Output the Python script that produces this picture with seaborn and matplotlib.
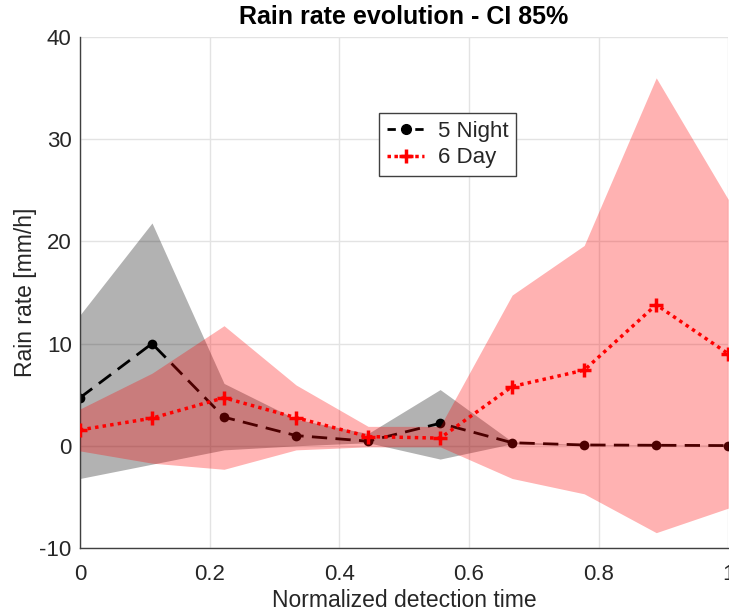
import numpy as np
import pandas as pd
import matplotlib
matplotlib.use("Agg")
import matplotlib.pyplot as plt
import seaborn as sns
from matplotlib.lines import Line2D

# ---- data ----
t = [0, 1/9, 2/9, 3/9, 4/9, 5/9, 6/9, 7/9, 8/9, 1]
night_mean = [4.7, 10.0, 2.8, 1.0, 0.45, 2.2, 0.3, 0.08, 0.05, 0.02]
night_low = [-3.2, -1.8, -0.4, 0.0, 0.3, -1.3, 0.2, 0.05, 0.03, 0.0]
night_high = [12.8, 21.8, 6.1, 2.6, 1.2, 5.5, 0.4, 0.1, 0.07, 0.04]
day_mean = [1.55, 2.7, 4.7, 2.75, 0.9, 0.75, 5.8, 7.4, 13.8, 9.0]
day_low = [-0.5, -1.7, -2.3, -0.4, -0.1, -0.1, -3.2, -4.7, -8.5, -6.1]
day_high = [3.6, 7.1, 11.75, 5.95, 1.9, 1.9, 14.75, 19.6, 36.0, 24.1]
labels = ["5 Night", "6 Day"]
xticks = [0, 0.2, 0.4, 0.6, 0.8, 1]
xticklabels = ["0", "0.2", "0.4", "0.6", "0.8", "1"]
yticks = [-10, 0, 10, 20, 30, 40]

sns.set_theme(style="whitegrid")
plt.rcParams['font.family'] = ['Liberation Sans', 'DejaVu Sans']
plt.rcParams['axes.unicode_minus'] = False

fig = plt.figure(figsize=(7.29, 6.16), dpi=100)
ax = fig.add_axes([0.1097, 0.1104, 0.8893, 0.8296])
ax.set_facecolor("white")

night_df = pd.DataFrame({"t": t, "v": night_mean})
day_df = pd.DataFrame({"t": t, "v": day_mean})

ax.fill_between(t, night_low, night_high, color="black", alpha=0.3, linewidth=0, zorder=1)
sns.lineplot(data=night_df, x="t", y="v", ax=ax, color="black", linestyle=(0, (5.5, 3)),
             linewidth=2, marker="o", markersize=7, markeredgewidth=0, zorder=2, legend=False)
ax.fill_between(t, day_low, day_high, color="red", alpha=0.3, linewidth=0, zorder=3)
sns.lineplot(data=day_df, x="t", y="v", ax=ax, color="red", linestyle=(0, (1, 1.2)),
             linewidth=2.5, zorder=4, legend=False)
sns.scatterplot(data=day_df, x="t", y="v", ax=ax, color="red", marker="+", s=100,
                linewidth=2.5, zorder=5, legend=False)

ax.set_xlim(0, 1)
ax.set_ylim(-10, 40)
ax.set_xticks(xticks)
ax.set_xticklabels(xticklabels)
ax.set_yticks(yticks)
ax.grid(True, color="#e3e3e3", linewidth=1)
ax.set_axisbelow(True)
for s in ["top", "right"]:
    ax.spines[s].set_visible(False)
for s in ["left", "bottom"]:
    ax.spines[s].set_color("#404040")
    ax.spines[s].set_linewidth(1)
ax.tick_params(axis="both", direction="in", length=5, width=1, color="#404040",
               labelsize=16, labelcolor="#262626")
ax.tick_params(axis="x", pad=11.5)
ax.tick_params(axis="y", pad=6)
ax.set_xlabel("Normalized detection time", fontsize=16.5, color="#262626", labelpad=3)
ax.set_ylabel("Rain rate [mm/h]", fontsize=16.5, color="#262626", labelpad=2)
ax.set_title("Rain rate evolution - CI 85%", fontsize=18, fontweight="bold", color="black", pad=9)

h2 = [Line2D([], [], color="black", linestyle=(0, (3, 2)), linewidth=2, marker="o", markersize=7),
      Line2D([], [], color="red", linestyle=(0, (1, 1)), linewidth=2.5, marker="+", markersize=10,
             markeredgewidth=2.5)]
leg = ax.legend(h2, labels, loc="upper left", bbox_to_anchor=(0.461, 0.851), fontsize=16,
                frameon=True, fancybox=False, edgecolor="#404040", framealpha=1,
                borderaxespad=0, handlelength=1.7, handletextpad=0.6, borderpad=0.35,
                labelspacing=0.25)
leg.get_frame().set_linewidth(1)

fig.savefig("out.png", dpi=100)
